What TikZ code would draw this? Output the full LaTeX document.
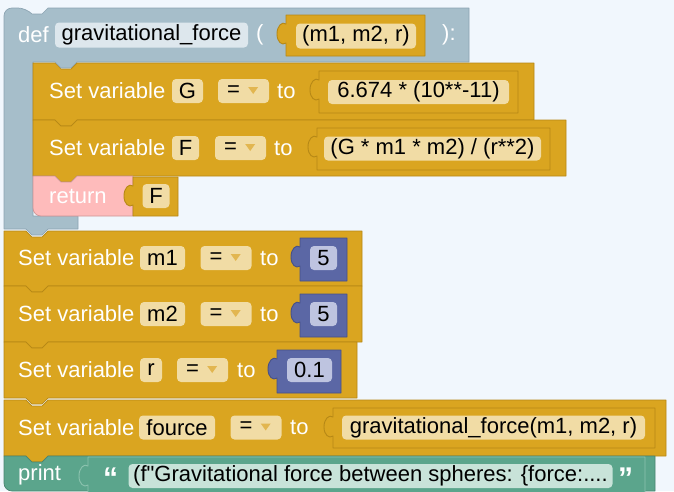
\documentclass[tikz,border=0pt]{standalone}
\usepackage{fontspec}
\newfontfamily\blkfont{Liberation Sans}

\definecolor{pagebg}{RGB}{241,247,253}
\definecolor{defgrey}{RGB}{166,190,202}
\definecolor{defline}{RGB}{140,164,178}
\definecolor{goldblk}{RGB}{218,165,32}
\definecolor{goldline}{RGB}{182,136,22}
\definecolor{goldfield}{RGB}{241,220,165}
\definecolor{namefield}{RGB}{221,231,237}
\definecolor{retpink}{RGB}{254,187,187}
\definecolor{numblue}{RGB}{91,103,165}
\definecolor{numline}{RGB}{70,80,135}
\definecolor{numfield}{RGB}{190,196,224}
\definecolor{printteal}{RGB}{91,165,140}
\definecolor{tealline}{RGB}{140,195,175}
\definecolor{strfield}{RGB}{200,227,217}
\definecolor{tri}{RGB}{226,182,80}

% statement block: style, x, y, width, height
\newcommand{\stmtblock}[5]{%
  \draw[#1] (#2,#3) -- ++(22,0) -- ++(6,6) -- ++(10,0) -- ++(6,-6) -- (#2+#4,#3)
    -- (#2+#4,#3+#5) -- (#2+44,#3+#5) -- ++(-6,6) -- ++(-10,0) -- ++(-6,-6)
    -- (#2,#3+#5) -- cycle;}
% value block with output tab: style, x1, y1, x2, y2
\newcommand{\valblock}[5]{%
  \draw[#1] (#2,#3) -- (#4,#3) -- (#4,#5) -- (#2,#5) -- (#2,#3+28)
    .. controls (#2-4,#3+31) and (#2-9,#3+27) .. (#2-9,#3+19)
    .. controls (#2-9,#3+11) and (#2-4,#3+6) .. (#2,#3+9) -- cycle;}

\begin{document}
\begin{tikzpicture}[x=1pt, y=-1pt, line join=round,
  font=\blkfont\fontsize{22}{24}\selectfont,
  lbl/.style={text=white, inner sep=0pt, anchor=west},
  fld/.style={fill=goldfield, rounded corners=4pt, text=black, inner sep=0pt, minimum height=24pt},
  eqfld/.style={fld, minimum width=51pt},
  numfld/.style={fld, fill=numfield},
  quote/.style={lbl, font=\blkfont\fontsize{30}{30}\selectfont\bfseries},
  gold/.style={fill=goldblk, draw=goldline, line width=0.7pt},
  valgold/.style={fill=goldblk, draw=goldline, line width=0.9pt},
  valblue/.style={fill=numblue, draw=numline, line width=0.9pt}]

\fill[pagebg] (0,0) rectangle (674,491);
\useasboundingbox (0,0) rectangle (674,491);
\clip (0,0) rectangle (674,491);

% def block
\draw[fill=defgrey, draw=defline, line width=0.7pt] (4,40) [rounded corners=8pt] -- (4,8) -- (26,8) [sharp corners]
  -- ++(6,6) -- ++(10,0) -- ++(6,-6) -- (469,8) -- (469,62) -- (77,62) -- ++(-6,6) -- ++(-10,0)
  -- ++(-6,-6) -- (33,62) -- (33,216) -- (78,216) -- (78,229) -- (48,229) -- ++(-6,6)
  -- ++(-10,0) -- ++(-6,-6) -- (4,229) -- cycle;
\node[lbl] (def) at (18,35) {def};
\node[fld, fill=namefield, minimum width=193pt, minimum height=25pt] (fname) at (151.5,35) {gravitational\_force};
\node[lbl] (popen) at (256,35) {(};
\valblock{valgold}{286}{15}{425}{56}
\node[fld, minimum width=120pt, minimum height=25pt] (args) at (356,36) {(m1, m2, r)};
\node[lbl] (pclose) at (442,35) {):};

% G
\stmtblock{gold}{33}{63}{501}{57}
\node[lbl] (setG) at (49,91) {Set variable};
\node[fld, minimum width=31pt] (varG) at (187.5,91) {G};
\node[eqfld] (eqG) at (243.5,91) {=\hspace{20pt}\mbox{}};
\node[lbl] (toG) at (277,91) {to};
\valblock{valgold}{319}{71}{518}{113}
\node[fld, minimum width=181pt] (valG) at (418.5,92) {6.674 * (10**-11)};

% F
\stmtblock{gold}{33}{120}{533}{56}
\node[lbl] (setF) at (49,148) {Set variable};
\node[fld, minimum width=27pt] (varF) at (185.5,148) {F};
\node[eqfld] (eqF) at (240.5,148) {=\hspace{20pt}\mbox{}};
\node[lbl] (toF) at (274,148) {to};
\valblock{valgold}{317}{128}{550}{170}
\node[fld, minimum width=217pt] (valF) at (432.5,148.5) {(G * m1 * m2) / (r**2)};

% return
\draw[fill=retpink, draw=retpink!80!black, line width=0.7pt] (33,176) -- (55,176) -- ++(6,6) -- ++(10,0) -- ++(6,-6)
  -- (133,176) -- (133,216) [rounded corners=8pt] -- (33,216) -- (33,190) [sharp corners] -- cycle;
\node[lbl] (ret) at (49,196) {return};
\valblock{valgold}{133}{177}{178}{216}
\node[fld, minimum width=27pt] (retF) at (156,196) {F};

% m1, m2, r
\stmtblock{gold}{4}{231}{358}{55}
\node[lbl] (setM1) at (18,258) {Set variable};
\node[fld, minimum width=45pt] (varM1) at (162.5,258) {m1};
\node[eqfld] (eqM1) at (226,258) {=\hspace{20pt}\mbox{}};
\node[lbl] (toM1) at (260,258) {to};
\valblock{valblue}{300}{238}{347}{281}
\node[numfld, minimum width=27pt] (valM1) at (323.5,258) {5};

\stmtblock{gold}{4}{286}{358}{56}
\node[lbl] (setM2) at (18,314) {Set variable};
\node[fld, minimum width=45pt] (varM2) at (162.5,314) {m2};
\node[eqfld] (eqM2) at (226,314) {=\hspace{20pt}\mbox{}};
\node[lbl] (toM2) at (260,314) {to};
\valblock{valblue}{300}{294}{347}{337}
\node[numfld, minimum width=27pt] (valM2) at (323.5,314) {5};

\stmtblock{gold}{4}{342}{353}{56}
\node[lbl] (setR) at (18,370) {Set variable};
\node[fld, minimum width=22pt] (varR) at (151,370) {r};
\node[eqfld] (eqR) at (202.5,370) {=\hspace{20pt}\mbox{}};
\node[lbl] (toR) at (237,370) {to};
\valblock{valblue}{277}{350}{341}{393}
\node[numfld, minimum width=45pt] (valR) at (309.5,370) {0.1};

% fource
\stmtblock{gold}{4}{400}{662}{56}
\node[lbl] (setFo) at (18,427.5) {Set variable};
\node[fld, minimum width=76pt] (varFo) at (177,427.5) {fource};
\node[eqfld] (eqFo) at (256,427.5) {=\hspace{20pt}\mbox{}};
\node[lbl] (toFo) at (290,427.5) {to};
\valblock{valgold}{333}{408}{655}{448}
\node[fld, minimum width=303pt] (valFo) at (493.5,427.5) {gravitational\_force(m1, m2, r)};

% dropdown arrows
\foreach \e in {eqG,eqF,eqM1,eqM2,eqR,eqFo}
  \fill[tri] ([shift={(-21,-4)}]\e.east) -- ++(10,0) -- ++(-5,7) -- cycle;

% print
\draw[fill=printteal, draw=printteal!80!black, line width=0.7pt] (4,456) -- (26,456) -- ++(6,6) -- ++(10,0) -- ++(6,-6)
  -- (655,456) -- (655,491) [rounded corners=8pt] -- (4,491) -- (4,470) [sharp corners] -- cycle;
\node[lbl] (print) at (18,475) {print};
\valblock{fill=printteal, draw=tealline, line width=0.9pt}{88}{457}{645}{496}
\node[quote] (qopen) at (103,478) {“};
\node[fld, fill=strfield, minimum width=484pt] (msg) at (370.5,476) {(f"Gravitational force between spheres: \{force:....};
\node[quote] (qclose) at (618,478) {”};

\end{tikzpicture}
\end{document}
